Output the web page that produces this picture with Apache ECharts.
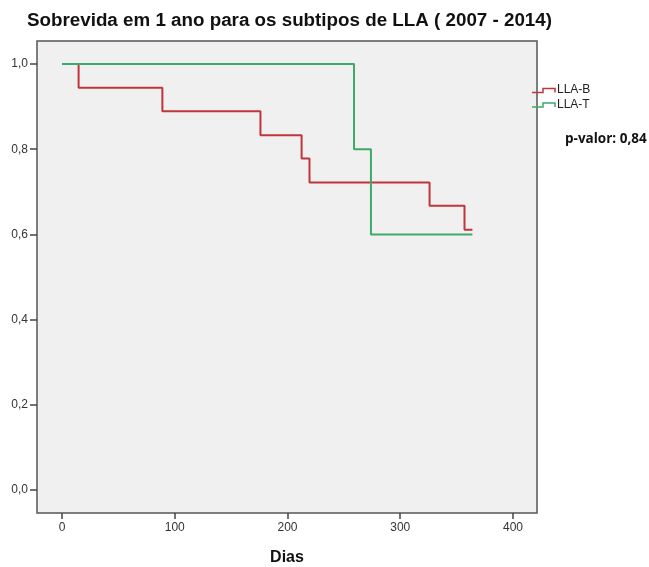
<!DOCTYPE html>
<html>
<head>
<meta charset="utf-8">
<script src="https://cdn.jsdelivr.net/npm/echarts@6/dist/echarts.min.js"></script>
<style>html,body{margin:0;padding:0;background:#fff;}#c{width:649px;height:567px;}</style>
</head>
<body>
<div id="c"></div>
<script>
const titleText = 'Sobrevida em 1 ano para os subtipos de LLA ( 2007 - 2014)';
const xTicks = [0, 100, 200, 300, 400];
const yTicks = [0, 0.2, 0.4, 0.6, 0.8, 1.0];
const seriesNames = ['LLA-B', 'LLA-T'];
// Kaplan-Meier steps: [dias, sobrevida]
const llaBTimes = [0, 14.7, 89, 176, 212.5, 219.5, 326, 357, 364];
const llaBValues = [1.0, 0.944, 0.889, 0.833, 0.778, 0.722, 0.667, 0.611, 0.611];
const llaTTimes = [0, 259, 274, 364];
const llaTValues = [1.0, 0.8, 0.6, 0.6];
const pValueText = 'p-valor: 0,84';

const colors = ['#c0353b', '#3dab68'];
const zip = (a, b) => a.map((v, i) => [v, b[i]]);

const chart = echarts.init(document.getElementById('c'), null, {renderer: 'canvas'});
const stepIcon = (x, y, color) => ({
  type: 'polyline',
  shape: {points: [[x, y + 4], [x + 11, y + 4], [x + 11, y], [x + 23, y], [x + 23, y + 4]]},
  style: {stroke: color, lineWidth: 1.5, fill: null}
});
chart.setOption({
  animation: false,
  backgroundColor: '#ffffff',
  title: {
    text: titleText, left: 22, top: 6,
    textStyle: {fontFamily: 'Liberation Sans', fontWeight: 'bold', fontSize: 18.8, color: '#111'}
  },
  grid: {
    left: 37, right: 112, top: 41, bottom: 54, show: true,
    containLabel: false, outerBoundsMode: 'none',
    backgroundColor: '#f0f0f0', borderColor: '#555', borderWidth: 1.5
  },
  xAxis: {
    type: 'value', min: -22.2, max: 421.3,
    name: 'Dias', nameLocation: 'middle', nameGap: 37,
    nameTextStyle: {fontFamily: 'Liberation Sans', fontWeight: 'bold', fontSize: 16, color: '#111'},
    axisLine: {show: false, onZero: false},
    axisTick: {show: true, length: 6, inside: false, customValues: xTicks, lineStyle: {color: '#444', width: 1.5}},
    axisLabel: {customValues: xTicks, fontFamily: 'Liberation Sans', fontSize: 12, color: '#333', margin: 9},
    splitLine: {show: false}
  },
  yAxis: {
    type: 'value', min: -0.054, max: 1.054,
    axisLine: {show: false, onZero: false},
    axisTick: {show: true, length: 7, customValues: yTicks, lineStyle: {color: '#444', width: 1.5}},
    axisLabel: {
      customValues: yTicks, fontFamily: 'Liberation Sans', fontSize: 12, color: '#333', margin: 9,
      formatter: v => v.toFixed(1).replace('.', ',')
    },
    splitLine: {show: false}
  },
  series: [
    {name: seriesNames[0], type: 'line', step: 'end', showSymbol: false, data: zip(llaBTimes, llaBValues),
     lineStyle: {color: colors[0], width: 2}, itemStyle: {color: colors[0]}},
    {name: seriesNames[1], type: 'line', step: 'end', showSymbol: false, data: zip(llaTTimes, llaTValues),
     lineStyle: {color: colors[1], width: 2}, itemStyle: {color: colors[1]}}
  ],
  graphic: [
    stepIcon(532, 88.5, colors[0]),
    {type: 'text', left: 557, top: 84, style: {text: seriesNames[0], fontFamily: 'Liberation Sans', fontSize: 12, fill: '#222'}},
    stepIcon(532, 103, colors[1]),
    {type: 'text', left: 557, top: 98.5, style: {text: seriesNames[1], fontFamily: 'Liberation Sans', fontSize: 12, fill: '#222'}},
    {type: 'text', left: 565, top: 132, style: {text: pValueText, fontFamily: 'Open Sans', fontWeight: 'bold', fontSize: 13.5, fill: '#111'}}
  ]
});
</script>
</body>
</html>
